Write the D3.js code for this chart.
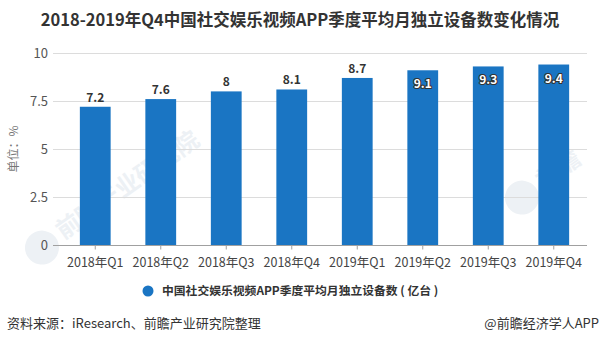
<!DOCTYPE html>
<html><head><meta charset="utf-8">
<script src="https://cdn.jsdelivr.net/npm/d3@7"></script>
<style>
html,body{margin:0;padding:0;background:#fff;}
svg{display:block;font-family:"Noto Sans CJK SC","Noto Sans",sans-serif;}
</style></head>
<body>
<svg id="c" width="600" height="344"></svg>
<script>
const categories = ["2018年Q1","2018年Q2","2018年Q3","2018年Q4","2019年Q1","2019年Q2","2019年Q3","2019年Q4"];
const values = [7.2, 7.6, 8, 8.1, 8.7, 9.1, 9.3, 9.4];
const yTicks = [0, 2.5, 5, 7.5, 10];
const insideLabel = [false,false,false,false,false,true,true,true];
const seriesName = "中国社交娱乐视频APP季度平均月独立设备数 ( 亿台 )";
const title = "2018-2019年Q4中国社交娱乐视频APP季度平均月独立设备数变化情况";
const yLabel = "单位：%";
const source = "资料来源：iResearch、前瞻产业研究院整理";
const credit = "@前瞻经济学人APP";

(function(){
const svg = d3.select("#c");
const color = "#1a75c3";
const pL = 53, pR = 587, pT = 53, pB = 245;

const x = d3.scaleBand().domain(categories).range([62.5, 586.5]).paddingInner(0.53).paddingOuter(0.265);
const y = d3.scaleLinear().domain([0, 10]).range([pB, pT]);

// watermarks
const wm = svg.append("g").attr("fill", "#edf1f5");
function mark(cx, cy, txt){
  const g = wm.append("g").attr("transform", `translate(${cx},${cy}) rotate(-35)`);
  g.append("circle").attr("cx", -22).attr("cy", 0).attr("r", 17);
  g.append("text").attr("x", 0).attr("y", 6).attr("font-size", 24).attr("font-weight", "bold").text(txt);
}
mark(60, 235, "前瞻产业研究院");
mark(540, 185, "前瞻");

// gridlines
svg.append("g").selectAll("line").data(yTicks.filter(d => d > 0)).join("line")
  .attr("x1", pL).attr("x2", pR)
  .attr("y1", d => y(d) + 0.5).attr("y2", d => y(d) + 0.5)
  .attr("stroke", "#dcdcdc").attr("stroke-width", 1);

// y tick labels
svg.append("g").selectAll("text").data(yTicks).join("text")
  .attr("x", 48).attr("y", d => y(d)).attr("dy", "0.36em")
  .attr("text-anchor", "end").attr("font-size", 13).attr("fill", "#555")
  .text(d => d);

// bars
svg.append("g").selectAll("rect").data(values).join("rect")
  .attr("x", (d, i) => x(categories[i])).attr("width", x.bandwidth())
  .attr("y", d => y(d)).attr("height", d => pB - y(d))
  .attr("fill", color);

// x axis
const xAxis = svg.append("g").attr("transform", `translate(0,${pB + 0.5})`);
xAxis.append("line").attr("x1", pL).attr("x2", pR).attr("stroke", "#a0a0a0");
xAxis.selectAll("line.t").data(categories).join("line").attr("class", "t")
  .attr("x1", d => x(d) + x.bandwidth() / 2).attr("x2", d => x(d) + x.bandwidth() / 2)
  .attr("y1", 0).attr("y2", 4).attr("stroke", "#a0a0a0");
xAxis.selectAll("text").data(categories).join("text")
  .attr("x", d => x(d) + x.bandwidth() / 2).attr("y", 17).attr("dy", "0.36em")
  .attr("text-anchor", "middle").attr("font-size", 12.5).attr("fill", "#444")
  .text(d => d);

// value labels
const lab = svg.append("g").attr("font-size", 12).attr("font-weight", "bold").attr("text-anchor", "middle");
values.forEach((v, i) => {
  const cx = x(categories[i]) + x.bandwidth() / 2;
  if (insideLabel[i]) {
    lab.append("text").attr("x", cx).attr("y", y(v) + 18)
      .attr("fill", "#fff").attr("stroke", "#333").attr("stroke-width", 2.2)
      .attr("paint-order", "stroke").attr("stroke-linejoin", "round").text(v);
  } else {
    lab.append("text").attr("x", cx).attr("y", y(v) - 5).attr("fill", "#333").text(v);
  }
});

// y label
svg.append("text").attr("transform", `translate(18,149) rotate(-90)`)
  .attr("text-anchor", "middle").attr("font-size", 12).attr("fill", "#777").text(yLabel);

// title
svg.append("text").attr("x", 300).attr("y", 26).attr("text-anchor", "middle")
  .attr("font-size", 16.5).attr("font-weight", "bold").attr("fill", "#333").text(title);

// legend
svg.append("circle").attr("cx", 148).attr("cy", 291).attr("r", 5.5).attr("fill", color);
svg.append("text").attr("x", 162).attr("y", 291).attr("dy", "0.36em")
  .attr("font-size", 11.8).attr("font-weight", "bold").attr("fill", "#333").text(seriesName);

// footer
svg.append("text").attr("x", 7).attr("y", 323).attr("dy", "0.36em")
  .attr("font-size", 13).attr("fill", "#333").text(source);
svg.append("text").attr("x", 599).attr("y", 323).attr("dy", "0.36em").attr("text-anchor", "end")
  .attr("font-size", 13).attr("fill", "#333").text(credit);
})();
</script>
</body></html>
